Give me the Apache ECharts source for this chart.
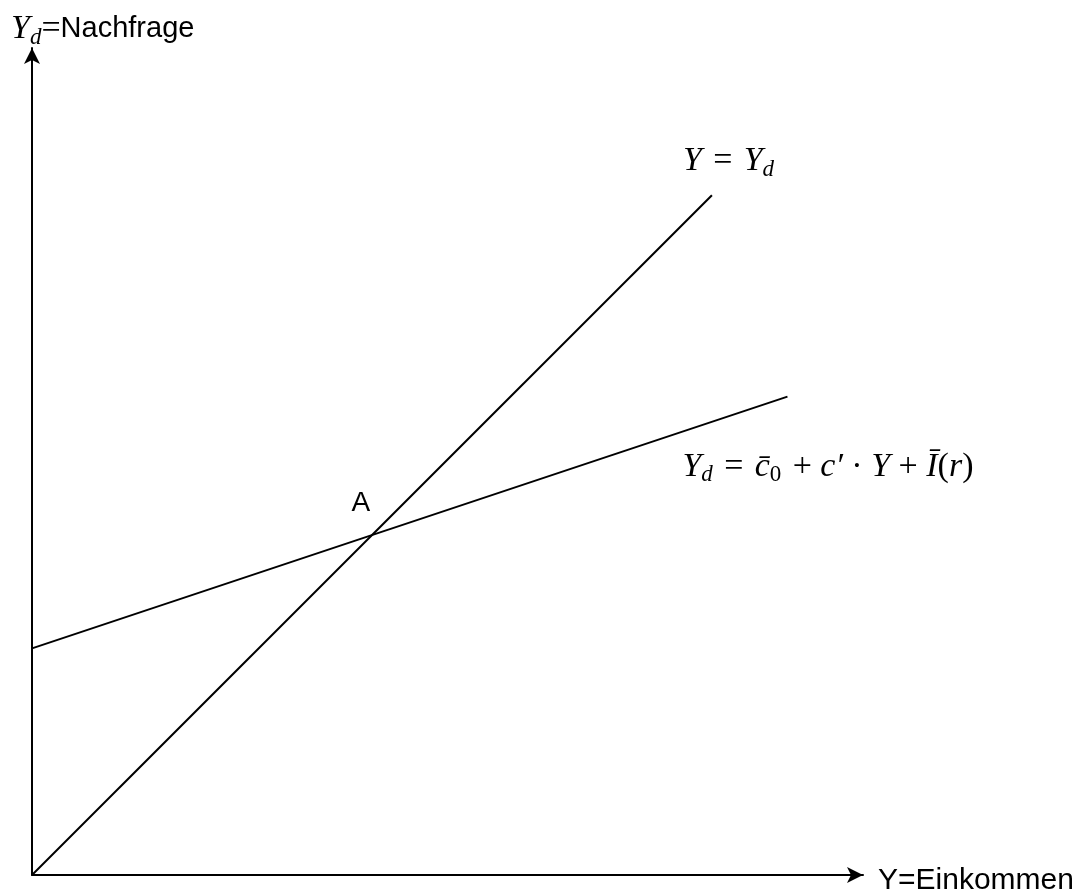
<!DOCTYPE html>
<html>
<head>
<meta charset="utf-8">
<script src="https://cdn.jsdelivr.net/npm/echarts@6/dist/echarts.min.js"></script>
<style>
html,body{margin:0;padding:0;background:#fff;}
#chart{width:1084px;height:893px;}
</style>
</head>
<body>
<div id="chart"></div>
<script>
// Data (units; equal scale on both axes)
const lineEquilibrium = [[0, 0], [9, 9]];          // Y = Y_d (45° line)
const lineDemand = [[0, 3], [10, 19 / 3]];          // Y_d = c0 + c'Y + I(r), slope 1/3
const pointA = [[4.5, 4.5]];                        // intersection A
const xMax = 11.0;
const yMax = 10.95;

const serif = '"Liberation Serif", "DejaVu Serif", serif';
const sans = '"Liberation Sans", "DejaVu Sans", sans-serif';
const mathRich = {
  i: { fontFamily: serif, fontStyle: 'italic', fontWeight: 'normal', fontSize: 34, color: '#000', lineHeight: 40 },
  m: { fontFamily: serif, fontWeight: 'normal', fontSize: 34, color: '#000', lineHeight: 40 },
  s: { fontFamily: serif, fontStyle: 'italic', fontWeight: 'normal', fontSize: 23, color: '#000', lineHeight: 22, verticalAlign: 'bottom' },
  n: { fontFamily: serif, fontWeight: 'normal', fontSize: 23, color: '#000', lineHeight: 22, verticalAlign: 'bottom' },
  t: { fontFamily: sans, fontWeight: 'normal', fontSize: 29, color: '#000', lineHeight: 40 }
};

const chart = echarts.init(document.getElementById('chart'));
chart.setOption({
  animation: false,
  backgroundColor: '#fff',
  title: {
    text: '{i|Y}{s|d}{m|=}{t|Nachfrage}',
    left: 6, top: 4,
    textStyle: { fontWeight: 'normal', rich: mathRich }
  },
  grid: { left: 32, top: 48, width: 831, height: 827, containLabel: false, outerBoundsMode: 'none' },
  xAxis: {
    type: 'value', min: 0, max: xMax,
    name: 'Y=Einkommen', nameLocation: 'end', nameGap: 15,
    nameTextStyle: { fontFamily: sans, fontSize: 30, color: '#000', verticalAlign: 'top', lineHeight: 12 },
    axisLine: { show: true, onZero: false, symbol: ['none', 'arrow'], symbolSize: [12, 16], lineStyle: { color: '#000', width: 2 } },
    axisTick: { show: false }, axisLabel: { show: false }, splitLine: { show: false }
  },
  yAxis: {
    type: 'value', min: 0, max: yMax,
    axisLine: { show: true, onZero: false, symbol: ['none', 'arrow'], symbolSize: [12, 16], lineStyle: { color: '#000', width: 2 } },
    axisTick: { show: false }, axisLabel: { show: false }, splitLine: { show: false }
  },
  series: [
    {
      type: 'line', data: lineEquilibrium, symbol: 'none',
      lineStyle: { color: '#000', width: 2 },
      endLabel: {
        show: true, offset: [-37, -34],
        formatter: '{i|Y}{m| \u200A=\u200A }{i|Y}{s|d}', rich: mathRich
      }
    },
    {
      type: 'line', data: lineDemand, symbol: 'none',
      lineStyle: { color: '#000', width: 2 },
      endLabel: {
        show: true, offset: [-113, 70],
        formatter: '{i|Y}{s|d}{m| \u200A=\u200A }{i|c̄}{n|0}{m| \u200A+ }{i|c′}{m| · }{i|Y}{m| + }{i|Ī}{m|(}{i|r}{m|)}', rich: mathRich
      }
    },
    {
      type: 'scatter', data: pointA, symbolSize: 0,
      itemStyle: { opacity: 1 },
      label: {
        show: true, formatter: 'A', position: 'top', distance: 0, offset: [-11, -18],
        fontFamily: sans, fontSize: 28, color: '#000', opacity: 1
      }
    }
  ]
});
</script>
</body>
</html>
